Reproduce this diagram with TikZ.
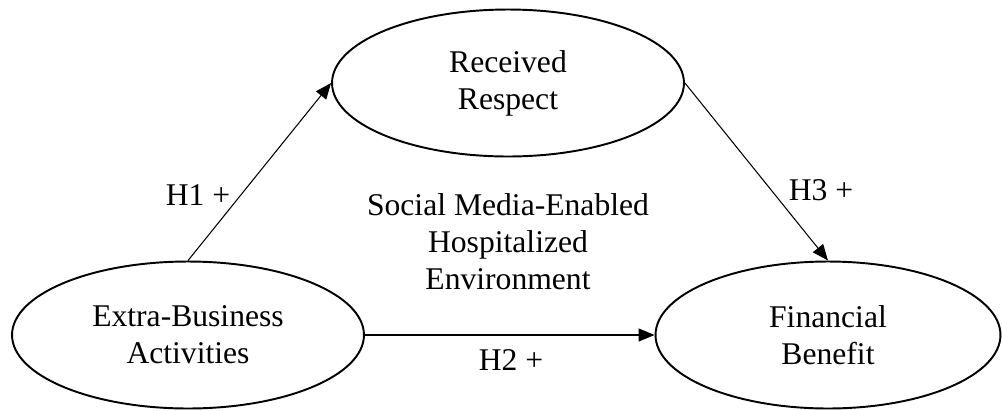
\documentclass[tikz,border=0pt]{standalone}
\usepackage{fontspec}
\setmainfont{Liberation Serif}
\usetikzlibrary{shapes.geometric,arrows.meta}

\tikzset{
  construct/.style={draw, ellipse, line width=1.1pt, minimum width=7.04cm,
    minimum height=2.94cm, align=center, inner sep=0pt},
  path/.style={-{Triangle[length=0.32cm,width=0.26cm]}, line width=0.6pt},
  hyp/.style={inner sep=0pt}
}

\begin{document}
\begin{tikzpicture}[x=0.02cm,y=-0.02cm,font=\fontsize{18}{21}\selectfont]
  \useasboundingbox (0,0) rectangle (1002,410);

  % constructs
  \node[construct] (resp) at (508,83) {Received\\Respect};
  \node[construct] (ebus) at (188,335) {Extra-Business\\Activities};
  \node[construct, minimum width=6.9cm] (fin) at (828,335) {Financial\\Benefit};

  % context
  \node[align=center] (env) at (508,242) {Social Media-Enabled\\Hospitalized\\Environment};

  % hypotheses
  \draw[path] (ebus.north) -- (resp.west);
  \draw[path] (resp.east) -- (fin.north);
  \draw[path] (ebus.east) -- (fin.west);

  \node[hyp] (h1) at (198,195) {H1 +};
  \node[hyp] (h3) at (821,190) {H3 +};
  \node[hyp] (h2) at (511,360) {H2 +};
\end{tikzpicture}
\end{document}
